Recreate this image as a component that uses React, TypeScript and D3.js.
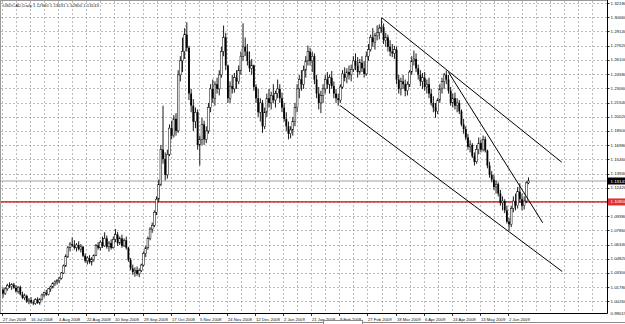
import React from "react";
import * as d3 from "d3";

const W = 625;
const H = 324;
const PLOT_L = 1;
const PLOT_R = 607;
const PLOT_T = 1;
const PLOT_B = 313;

const symbolTitle = "USDCAD,Daily";
const lastBarQuote = ["1.12940", "1.13531", "1.12800", "1.13143"];

const dateLabels = [
  "27 Jun 2008", "16 Jul 2008", "4 Aug 2008", "22 Aug 2008", "10 Sep 2008", "29 Sep 2008",
  "17 Oct 2008", "5 Nov 2008", "24 Nov 2008", "12 Dec 2008", "2 Jan 2009", "21 Jan 2009",
  "9 Feb 2009", "27 Feb 2009", "18 Mar 2009", "6 Apr 2009", "24 Apr 2009", "13 May 2009", "2 Jun 2009",
];
const barsPerDateLabel = 13;

const priceTicks = [
  1.3218, 1.3066, 1.2914, 1.2762, 1.261, 1.2458, 1.2306, 1.2154, 1.2002, 1.185, 1.1698,
  1.1546, 1.1394, 1.1242, 1.109, 1.0938, 1.0786, 1.0634, 1.0482, 1.033, 1.0178, 1.0026,
];
const priceMin = 0.99019;
const priceMax = 1.32296;

const currentPrice = 1.13143;
const redLevel = 1.109;

const open = [
  1.0150, 1.0110, 1.0160, 1.0195, 1.0185, 1.0205, 1.0172, 1.0135, 1.0178, 1.0102,
  1.0065, 1.0085, 1.0025, 1.0040, 1.0015, 1.0005, 1.0045, 1.0010, 1.0050, 1.0095,
  1.0120, 1.0100, 1.0160, 1.0180, 1.0215, 1.0235, 1.0248, 1.0275, 1.0330, 1.0405,
  1.0510, 1.0600, 1.0640, 1.0625, 1.0600, 1.0630, 1.0585, 1.0610, 1.0515, 1.0460,
  1.0490, 1.0445, 1.0475, 1.0520, 1.0625, 1.0600, 1.0660, 1.0620, 1.0700, 1.0610,
  1.0650, 1.0600, 1.0690, 1.0740, 1.0650, 1.0700, 1.0620, 1.0680, 1.0600, 1.0470,
  1.0380, 1.0340, 1.0360, 1.0320, 1.0355, 1.0415, 1.0540, 1.0600, 1.0700, 1.0800,
  1.0840, 1.0980, 1.1120, 1.1280, 1.1650, 1.1550, 1.1380, 1.1600, 1.1880, 1.1800,
  1.1980, 1.1850, 1.2450, 1.2600, 1.2700, 1.2880, 1.2740, 1.2250, 1.2120, 1.1950,
  1.2050, 1.1700, 1.1760, 1.1920, 1.1760, 1.1850, 1.2100, 1.2300, 1.2200, 1.2350,
  1.2300, 1.2450, 1.2700, 1.2850, 1.2550, 1.2200, 1.2330, 1.2300, 1.2420, 1.2380,
  1.2500, 1.2650, 1.2750, 1.2700, 1.2600, 1.2520, 1.2550, 1.2320, 1.2200, 1.2050,
  1.2150, 1.1900, 1.2050, 1.2200, 1.2150, 1.2230, 1.2180, 1.2250, 1.2300, 1.2200,
  1.2100, 1.1980, 1.1900, 1.1820, 1.1860, 1.1950, 1.2100, 1.2300, 1.2400, 1.2350,
  1.2500, 1.2600, 1.2700, 1.2600, 1.2650, 1.2400, 1.2250, 1.2150, 1.2230, 1.2300,
  1.2400, 1.2350, 1.2420, 1.2330, 1.2250, 1.2200, 1.2180, 1.2320, 1.2460, 1.2420,
  1.2480, 1.2450, 1.2510, 1.2600, 1.2550, 1.2480, 1.2580, 1.2520, 1.2460, 1.2650,
  1.2720, 1.2850, 1.2800, 1.2870, 1.2900, 1.2950, 1.2960, 1.2820, 1.2850, 1.2750,
  1.2700, 1.2680, 1.2720, 1.2400, 1.2300, 1.2380, 1.2350, 1.2280, 1.2350, 1.2480,
  1.2600, 1.2620, 1.2520, 1.2450, 1.2380, 1.2420, 1.2320, 1.2350, 1.2250, 1.2150,
  1.2100, 1.2060, 1.2180, 1.2300, 1.2380, 1.2450, 1.2400, 1.2280, 1.2150, 1.2200,
  1.2120, 1.2150, 1.2060, 1.1920, 1.1870, 1.1780, 1.1680, 1.1700, 1.1580, 1.1520,
  1.1650, 1.1720, 1.1650, 1.1760, 1.1640, 1.1480, 1.1380, 1.1330, 1.1250, 1.1280,
  1.1180, 1.1080, 1.1100, 1.1000, 1.0880, 1.0850, 1.1020, 1.1100, 1.1050, 1.1200,
  1.1120, 1.1050, 1.1100, 1.1294,
];
const high = [
  1.0175, 1.0180, 1.0215, 1.0230, 1.0220, 1.0225, 1.0200, 1.0190, 1.0195, 1.0130,
  1.0110, 1.0098, 1.0060, 1.0070, 1.0040, 1.0060, 1.0070, 1.0060, 1.0110, 1.0130,
  1.0150, 1.0170, 1.0195, 1.0230, 1.0250, 1.0265, 1.0290, 1.0340, 1.0420, 1.0530,
  1.0620, 1.0660, 1.0710, 1.0680, 1.0650, 1.0670, 1.0640, 1.0620, 1.0540, 1.0510,
  1.0520, 1.0500, 1.0530, 1.0640, 1.0660, 1.0680, 1.0720, 1.0765, 1.0730, 1.0670,
  1.0690, 1.0720, 1.0800, 1.0770, 1.0720, 1.0740, 1.0700, 1.0720, 1.0610, 1.0490,
  1.0420, 1.0390, 1.0400, 1.0380, 1.0430, 1.0560, 1.0620, 1.0720, 1.0820, 1.0870,
  1.1000, 1.1150, 1.1330, 1.1700, 1.2120, 1.1620, 1.1650, 1.1920, 1.1960, 1.2020,
  1.2040, 1.2500, 1.2650, 1.2850, 1.2950, 1.3013, 1.2760, 1.2300, 1.2190, 1.2100,
  1.2080, 1.1800, 1.1990, 1.1960, 1.1900, 1.2150, 1.2350, 1.2400, 1.2380, 1.2420,
  1.2500, 1.2750, 1.2978, 1.2900, 1.2560, 1.2380, 1.2450, 1.2470, 1.2500, 1.2550,
  1.2700, 1.3002, 1.2850, 1.2780, 1.2700, 1.2620, 1.2560, 1.2350, 1.2300, 1.2200,
  1.2180, 1.2100, 1.2250, 1.2300, 1.2270, 1.2350, 1.2280, 1.2400, 1.2350, 1.2260,
  1.2150, 1.2050, 1.1950, 1.1900, 1.2000, 1.2150, 1.2350, 1.2450, 1.2500, 1.2550,
  1.2650, 1.2764, 1.2740, 1.2700, 1.2680, 1.2450, 1.2320, 1.2280, 1.2350, 1.2450,
  1.2480, 1.2450, 1.2490, 1.2380, 1.2300, 1.2250, 1.2350, 1.2500, 1.2530, 1.2520,
  1.2550, 1.2560, 1.2650, 1.2680, 1.2640, 1.2620, 1.2650, 1.2600, 1.2700, 1.2780,
  1.2880, 1.2950, 1.2900, 1.2980, 1.2990, 1.3060, 1.3000, 1.2900, 1.2880, 1.2820,
  1.2780, 1.2760, 1.2750, 1.2450, 1.2420, 1.2450, 1.2400, 1.2380, 1.2500, 1.2650,
  1.2710, 1.2680, 1.2560, 1.2500, 1.2470, 1.2480, 1.2400, 1.2420, 1.2300, 1.2220,
  1.2150, 1.2200, 1.2350, 1.2420, 1.2470, 1.2496, 1.2450, 1.2320, 1.2250, 1.2260,
  1.2200, 1.2180, 1.2080, 1.1980, 1.1900, 1.1820, 1.1750, 1.1720, 1.1620, 1.1700,
  1.1780, 1.1760, 1.1800, 1.1790, 1.1650, 1.1520, 1.1420, 1.1380, 1.1320, 1.1300,
  1.1220, 1.1150, 1.1120, 1.1050, 1.0920, 1.1050, 1.1150, 1.1180, 1.1250, 1.1290,
  1.1180, 1.1150, 1.1310, 1.13531,
];
const low = [
  1.0065, 1.0095, 1.0140, 1.0170, 1.0150, 1.0160, 1.0120, 1.0110, 1.0090, 1.0050,
  1.0040, 1.0010, 0.9995, 1.0000, 0.9985, 0.9990, 1.0000, 0.9990, 1.0035, 1.0070,
  1.0085, 1.0090, 1.0130, 1.0165, 1.0190, 1.0205, 1.0220, 1.0260, 1.0320, 1.0395,
  1.0490, 1.0560, 1.0610, 1.0580, 1.0560, 1.0570, 1.0550, 1.0500, 1.0440, 1.0420,
  1.0430, 1.0410, 1.0450, 1.0510, 1.0580, 1.0570, 1.0600, 1.0610, 1.0590, 1.0560,
  1.0580, 1.0590, 1.0660, 1.0620, 1.0630, 1.0600, 1.0610, 1.0580, 1.0450, 1.0360,
  1.0310, 1.0290, 1.0300, 1.0285, 1.0340, 1.0400, 1.0500, 1.0580, 1.0680, 1.0760,
  1.0820, 1.0950, 1.1090, 1.1260, 1.1500, 1.1320, 1.1340, 1.1580, 1.1760, 1.1780,
  1.1800, 1.1830, 1.2380, 1.2480, 1.2620, 1.2700, 1.2180, 1.2050, 1.1850, 1.1880,
  1.1650, 1.1480, 1.1700, 1.1700, 1.1720, 1.1820, 1.2050, 1.2150, 1.2120, 1.2250,
  1.2230, 1.2420, 1.2650, 1.2500, 1.2150, 1.2150, 1.2250, 1.2260, 1.2300, 1.2350,
  1.2450, 1.2600, 1.2650, 1.2550, 1.2480, 1.2450, 1.2280, 1.2150, 1.2000, 1.1950,
  1.1830, 1.1870, 1.2000, 1.2100, 1.2080, 1.2150, 1.2100, 1.2200, 1.2150, 1.2050,
  1.1950, 1.1850, 1.1760, 1.1770, 1.1800, 1.1900, 1.2050, 1.2200, 1.2280, 1.2300,
  1.2420, 1.2550, 1.2550, 1.2480, 1.2350, 1.2200, 1.2080, 1.2040, 1.2150, 1.2250,
  1.2300, 1.2250, 1.2300, 1.2200, 1.2150, 1.2120, 1.2150, 1.2300, 1.2380, 1.2360,
  1.2400, 1.2380, 1.2480, 1.2500, 1.2420, 1.2450, 1.2480, 1.2420, 1.2440, 1.2600,
  1.2700, 1.2750, 1.2720, 1.2820, 1.2830, 1.2900, 1.2780, 1.2750, 1.2700, 1.2650,
  1.2640, 1.2620, 1.2350, 1.2250, 1.2230, 1.2300, 1.2220, 1.2230, 1.2320, 1.2450,
  1.2550, 1.2480, 1.2400, 1.2330, 1.2300, 1.2280, 1.2250, 1.2200, 1.2120, 1.2050,
  1.1990, 1.2030, 1.2150, 1.2250, 1.2300, 1.2350, 1.2250, 1.2120, 1.2100, 1.2080,
  1.2050, 1.2030, 1.1900, 1.1820, 1.1750, 1.1650, 1.1620, 1.1560, 1.1480, 1.1500,
  1.1600, 1.1620, 1.1630, 1.1620, 1.1450, 1.1350, 1.1300, 1.1220, 1.1180, 1.1150,
  1.1050, 1.1000, 1.0970, 1.0860, 1.0784, 1.0820, 1.0980, 1.1000, 1.1020, 1.1080,
  1.1000, 1.1010, 1.1080, 1.12800,
];
const close = [
  1.0110, 1.0160, 1.0195, 1.0185, 1.0205, 1.0172, 1.0135, 1.0178, 1.0102, 1.0065,
  1.0085, 1.0025, 1.0040, 1.0015, 1.0005, 1.0045, 1.0010, 1.0050, 1.0095, 1.0120,
  1.0100, 1.0160, 1.0180, 1.0215, 1.0235, 1.0248, 1.0275, 1.0330, 1.0405, 1.0510,
  1.0600, 1.0640, 1.0625, 1.0600, 1.0630, 1.0585, 1.0610, 1.0515, 1.0460, 1.0490,
  1.0445, 1.0475, 1.0520, 1.0625, 1.0600, 1.0660, 1.0620, 1.0700, 1.0610, 1.0650,
  1.0600, 1.0690, 1.0740, 1.0650, 1.0700, 1.0620, 1.0680, 1.0600, 1.0470, 1.0380,
  1.0340, 1.0360, 1.0320, 1.0355, 1.0415, 1.0540, 1.0600, 1.0700, 1.0800, 1.0840,
  1.0980, 1.1120, 1.1280, 1.1650, 1.1550, 1.1380, 1.1600, 1.1880, 1.1800, 1.1980,
  1.1850, 1.2450, 1.2600, 1.2700, 1.2880, 1.2740, 1.2250, 1.2120, 1.1950, 1.2050,
  1.1700, 1.1760, 1.1920, 1.1760, 1.1850, 1.2100, 1.2300, 1.2200, 1.2350, 1.2300,
  1.2450, 1.2700, 1.2850, 1.2550, 1.2200, 1.2330, 1.2300, 1.2420, 1.2380, 1.2500,
  1.2650, 1.2750, 1.2700, 1.2600, 1.2520, 1.2550, 1.2320, 1.2200, 1.2050, 1.2150,
  1.1900, 1.2050, 1.2200, 1.2150, 1.2230, 1.2180, 1.2250, 1.2300, 1.2200, 1.2100,
  1.1980, 1.1900, 1.1820, 1.1860, 1.1950, 1.2100, 1.2300, 1.2400, 1.2350, 1.2500,
  1.2600, 1.2700, 1.2600, 1.2650, 1.2400, 1.2250, 1.2150, 1.2230, 1.2300, 1.2400,
  1.2350, 1.2420, 1.2330, 1.2250, 1.2200, 1.2180, 1.2320, 1.2460, 1.2420, 1.2480,
  1.2450, 1.2510, 1.2600, 1.2550, 1.2480, 1.2580, 1.2520, 1.2460, 1.2650, 1.2720,
  1.2850, 1.2800, 1.2870, 1.2900, 1.2950, 1.2960, 1.2820, 1.2850, 1.2750, 1.2700,
  1.2680, 1.2720, 1.2400, 1.2300, 1.2380, 1.2350, 1.2280, 1.2350, 1.2480, 1.2600,
  1.2620, 1.2520, 1.2450, 1.2380, 1.2420, 1.2320, 1.2350, 1.2250, 1.2150, 1.2100,
  1.2060, 1.2180, 1.2300, 1.2380, 1.2450, 1.2400, 1.2280, 1.2150, 1.2200, 1.2120,
  1.2150, 1.2060, 1.1920, 1.1870, 1.1780, 1.1680, 1.1700, 1.1580, 1.1520, 1.1650,
  1.1720, 1.1650, 1.1760, 1.1640, 1.1480, 1.1380, 1.1330, 1.1250, 1.1280, 1.1180,
  1.1080, 1.1100, 1.1000, 1.0880, 1.0850, 1.1020, 1.1100, 1.1050, 1.1200, 1.1120,
  1.1050, 1.1100, 1.1294, 1.13143,
];

// Trend lines: [barIndex, price] pairs (start, end)
const trendUpperChannel = [[175.2, 1.306], [258.4, 1.1515]];
const trendSteep = [[206.0, 1.2478], [249.6, 1.0867]];
const trendLowerChannel = [[155.9, 1.2122], [258.6, 1.0346]];

const FONT = "'Liberation Sans', Arial, sans-serif";

export default function App() {
  const x = d3.scaleLinear().domain([0, close.length - 1]).range([3, 528.5]);
  const y = d3.scaleLinear().domain([priceMin, priceMax]).range([PLOT_B, 2]);

  const vGrid: number[] = [];
  for (let n = 0; ; n++) {
    const gx = x(n * barsPerDateLabel / 2) - 1;
    if (gx >= PLOT_R - 2) break;
    vGrid.push(gx);
  }

  const line = d3.line<number[]>().x((d) => x(d[0])).y((d) => y(d[1]));
  const fmt = (v: number) => v.toFixed(5);

  return (
    <svg width={W} height={H} style={{ position: "absolute", left: 0, top: 0, background: "#fff" }}>
      <rect x={0} y={0} width={W} height={H} fill="#fff" />
      {/* grid */}
      <g stroke="#ababab" strokeWidth={0.8} strokeDasharray="2,2">
        {priceTicks.map((p, i) => (
          <line key={"h" + i} x1={PLOT_L} x2={PLOT_R} y1={Math.round(y(p)) + 0.5} y2={Math.round(y(p)) + 0.5} />
        ))}
        {vGrid.map((gx, i) => (
          <line key={"v" + i} x1={Math.round(gx) + 0.5} x2={Math.round(gx) + 0.5} y1={PLOT_T} y2={PLOT_B} />
        ))}
      </g>
      {/* levels */}
      <line x1={PLOT_L} x2={PLOT_R} y1={y(redLevel)} y2={y(redLevel)} stroke="#d80000" strokeWidth={1.3} />
      <line x1={PLOT_L} x2={PLOT_R} y1={y(currentPrice)} y2={y(currentPrice)} stroke="#a0a0a0" strokeWidth={1} />
      {/* candles */}
      <g>
        {close.map((c, i) => {
          const o = open[i];
          const cx = x(i);
          const yt = y(Math.max(o, c));
          const yb = y(Math.min(o, c));
          const bull = c >= o;
          return (
            <g key={i}>
              <line x1={cx} x2={cx} y1={y(high[i])} y2={y(low[i])} stroke="#000" strokeWidth={0.9} />
              <rect x={cx - 0.9} y={yt} width={1.8} height={Math.max(0.8, yb - yt)}
                fill={bull ? "#fff" : "#000"} stroke="#000" strokeWidth={bull ? 0.5 : 0} />
            </g>
          );
        })}
      </g>
      {/* trend lines */}
      <g fill="none" stroke="#000" strokeWidth={1}>
        <path d={line(trendUpperChannel) || ""} />
        <path d={line(trendSteep) || ""} />
        <path d={line(trendLowerChannel) || ""} />
      </g>
      {/* frame */}
      <line x1={0.5} x2={0.5} y1={0} y2={PLOT_B} stroke="#9a9a9a" />
      <line x1={0} x2={PLOT_R} y1={0.5} y2={0.5} stroke="#9a9a9a" />
      <line x1={PLOT_R + 0.5} x2={PLOT_R + 0.5} y1={0} y2={PLOT_B + 0.5} stroke="#000" />
      <line x1={0} x2={PLOT_R + 0.5} y1={PLOT_B + 0.5} y2={PLOT_B + 0.5} stroke="#000" />
      {/* price axis */}
      <g fontFamily={FONT} fontSize={4.4} fill="#111">
        {priceTicks.map((p, i) => (
          <g key={"pt" + i}>
            <line x1={PLOT_R} x2={PLOT_R + 2.5} y1={Math.round(y(p)) + 0.5} y2={Math.round(y(p)) + 0.5} stroke="#000" strokeWidth={0.8} />
            <text x={PLOT_R + 3.5} y={y(p)} dominantBaseline="central">{fmt(p)}</text>
          </g>
        ))}
        <text x={PLOT_R + 3.5} y={PLOT_B} dominantBaseline="central">{fmt(priceMin)}</text>
        <rect x={PLOT_R + 1} y={y(redLevel) - 3.5} width={W - PLOT_R - 1} height={7} fill="#e03030" />
        <text x={PLOT_R + 3.5} y={y(redLevel)} dominantBaseline="central" fill="#fff">{fmt(redLevel)}</text>
        <rect x={PLOT_R + 1} y={y(currentPrice) - 3.5} width={W - PLOT_R - 1} height={7} fill="#000" />
        <text x={PLOT_R + 3.5} y={y(currentPrice)} dominantBaseline="central" fill="#fff">{fmt(currentPrice)}</text>
      </g>
      {/* date axis */}
      <g fontFamily={FONT} fontSize={4.2} fill="#111">
        {dateLabels.map((lbl, k) => {
          const tx = Math.round(x(k * barsPerDateLabel) - 1) + 0.5;
          return (
            <g key={"d" + k}>
              <line x1={tx} x2={tx} y1={PLOT_B} y2={PLOT_B + 3} stroke="#000" strokeWidth={0.8} />
              <text x={tx + 0.5} y={PLOT_B + 7.5}>{lbl}</text>
            </g>
          );
        })}
      </g>
      {/* header */}
      <text x={3} y={7} fontFamily={FONT} fontSize={4.3} fill="#222">
        {symbolTitle + "  " + lastBarQuote.join(" ")}
      </text>
      {/* bottom tab strip */}
      <line x1={0} x2={W} y1={322.5} y2={322.5} stroke="#8a8a8a" />
      <rect x={323.5} y={320.5} width={39} height={4} fill="#fff" stroke="#8a8a8a" />
    </svg>
  );
}
